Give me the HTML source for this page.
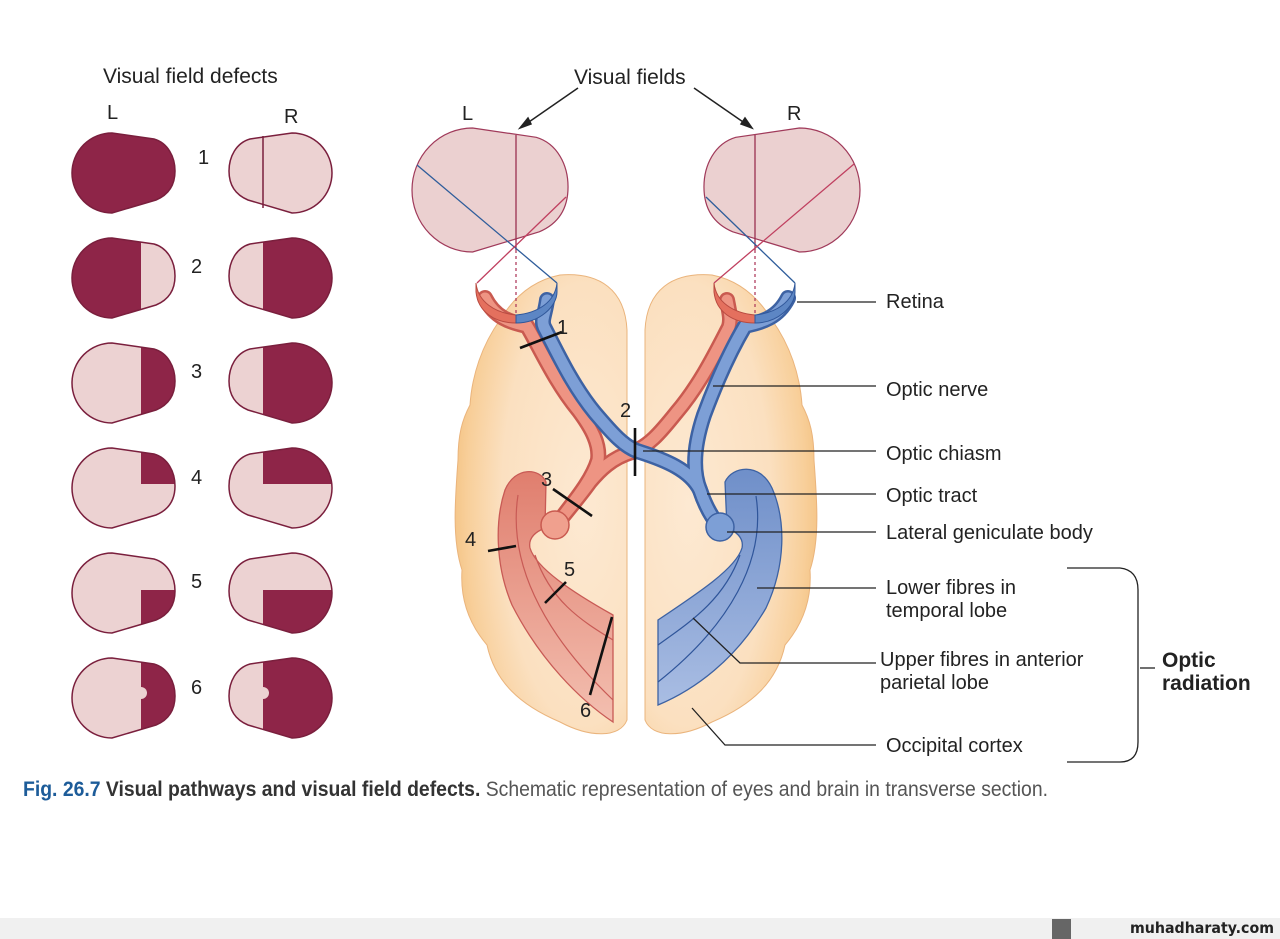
<!DOCTYPE html>
<html><head><meta charset="utf-8"><style>
html,body{margin:0;padding:0;background:#fff;width:1280px;height:939px;overflow:hidden}
svg{display:block}
text{font-family:"Liberation Sans",sans-serif;fill:#222}
</style></head><body>
<svg width="1280" height="939" viewBox="0 0 1280 939" xmlns="http://www.w3.org/2000/svg">
<defs>
<path id="fl" d="M40,0 L82,6 C96,10 103,24 103,38 C103,53 96,62 84,67 L40,80 A40,40 0 0 1 40,0 Z"/>
<radialGradient id="peach" cx="0.75" cy="0.5" r="0.8"><stop offset="0" stop-color="#fde9d2"/><stop offset="0.6" stop-color="#fbe0c0"/><stop offset="0.85" stop-color="#f8cf9a"/><stop offset="1" stop-color="#f3c07e"/></radialGradient>
<radialGradient id="peachR" cx="0.25" cy="0.5" r="0.8"><stop offset="0" stop-color="#fde9d2"/><stop offset="0.6" stop-color="#fbe0c0"/><stop offset="0.85" stop-color="#f8cf9a"/><stop offset="1" stop-color="#f3c07e"/></radialGradient>
<linearGradient id="redband" x1="0" y1="0" x2="0" y2="1"><stop offset="0" stop-color="#e07e6e"/><stop offset="1" stop-color="#f3bfb0"/></linearGradient>
<linearGradient id="blueband" x1="0" y1="0" x2="0" y2="1"><stop offset="0" stop-color="#6f8fc9"/><stop offset="1" stop-color="#a9bde3"/></linearGradient>
</defs>

<text x="103" y="83" font-size="21">Visual field defects</text>
<text x="107" y="119" font-size="20">L</text>
<text x="284" y="123" font-size="20">R</text>

<g stroke="#7a1f3d" stroke-width="1.5">
<use href="#fl" transform="translate(72,133)" fill="#8e2548"/>
<use href="#fl" transform="translate(332,133) scale(-1,1)" fill="#ecd2d2"/>
<line x1="263" y1="136" x2="263" y2="208"/>
</g>
<clipPath id="cL2"><use href="#fl" transform="translate(72,238)"/></clipPath>
<clipPath id="cR2"><use href="#fl" transform="translate(332,238) scale(-1,1)"/></clipPath>
<clipPath id="cL3"><use href="#fl" transform="translate(72,343)"/></clipPath>
<clipPath id="cR3"><use href="#fl" transform="translate(332,343) scale(-1,1)"/></clipPath>
<clipPath id="cL4"><use href="#fl" transform="translate(72,448)"/></clipPath>
<clipPath id="cR4"><use href="#fl" transform="translate(332,448) scale(-1,1)"/></clipPath>
<clipPath id="cL5"><use href="#fl" transform="translate(72,553)"/></clipPath>
<clipPath id="cR5"><use href="#fl" transform="translate(332,553) scale(-1,1)"/></clipPath>
<clipPath id="cL6"><use href="#fl" transform="translate(72,658)"/></clipPath>
<clipPath id="cR6"><use href="#fl" transform="translate(332,658) scale(-1,1)"/></clipPath>

<g fill="#ecd2d2">
<use href="#fl" transform="translate(72,238)"/><use href="#fl" transform="translate(332,238) scale(-1,1)"/>
<use href="#fl" transform="translate(72,343)"/><use href="#fl" transform="translate(332,343) scale(-1,1)"/>
<use href="#fl" transform="translate(72,448)"/><use href="#fl" transform="translate(332,448) scale(-1,1)"/>
<use href="#fl" transform="translate(72,553)"/><use href="#fl" transform="translate(332,553) scale(-1,1)"/>
<use href="#fl" transform="translate(72,658)"/><use href="#fl" transform="translate(332,658) scale(-1,1)"/>
</g>
<g fill="#8e2548">
<rect x="60" y="230" width="81" height="100" clip-path="url(#cL2)"/>
<rect x="263" y="230" width="80" height="100" clip-path="url(#cR2)"/>
<rect x="141" y="335" width="40" height="100" clip-path="url(#cL3)"/>
<rect x="263" y="335" width="80" height="100" clip-path="url(#cR3)"/>
<rect x="141" y="440" width="40" height="44" clip-path="url(#cL4)"/>
<rect x="263" y="440" width="80" height="44" clip-path="url(#cR4)"/>
<rect x="141" y="590" width="40" height="50" clip-path="url(#cL5)"/>
<rect x="263" y="590" width="80" height="50" clip-path="url(#cR5)"/>
<rect x="141" y="650" width="40" height="100" clip-path="url(#cL6)"/>
<rect x="263" y="650" width="80" height="100" clip-path="url(#cR6)"/>
</g>
<g fill="#ecd2d2"><circle cx="141" cy="693" r="6"/><circle cx="263" cy="693" r="6"/></g>
<g fill="none" stroke="#7a1f3d" stroke-width="1.5">
<use href="#fl" transform="translate(72,238)"/><use href="#fl" transform="translate(332,238) scale(-1,1)"/>
<use href="#fl" transform="translate(72,343)"/><use href="#fl" transform="translate(332,343) scale(-1,1)"/>
<use href="#fl" transform="translate(72,448)"/><use href="#fl" transform="translate(332,448) scale(-1,1)"/>
<use href="#fl" transform="translate(72,553)"/><use href="#fl" transform="translate(332,553) scale(-1,1)"/>
<use href="#fl" transform="translate(72,658)"/><use href="#fl" transform="translate(332,658) scale(-1,1)"/>
</g>
<g font-size="20"><text x="198" y="164">1</text><text x="191" y="273">2</text><text x="191" y="378">3</text><text x="191" y="484">4</text><text x="191" y="588">5</text><text x="191" y="694">6</text></g>

<text x="574" y="84" font-size="21">Visual fields</text>
<text x="462" y="120" font-size="20">L</text>
<text x="787" y="120" font-size="20">R</text>
<g stroke="#222" stroke-width="1.5" fill="#222">
<line x1="578" y1="88" x2="526" y2="124"/><path d="M520,128 L528,118 L531,124 Z"/>
<line x1="694" y1="88" x2="746" y2="124"/><path d="M752,128 L741,124 L745,118 Z"/>
</g>

<!-- brain -->
<path d="M560,275 C600,272 625,290 627,330 L627,720 C620,738 590,738 560,722 C520,705 495,682 487,645 C470,625 460,600 462,570 C452,540 455,500 458,460 C458,435 462,420 470,405 C472,375 482,345 500,320 C515,295 535,280 560,275 Z" fill="url(#peach)" stroke="#eab47c" stroke-width="1"/>
<path d="M712,275 C672,272 647,290 645,330 L645,720 C652,738 682,738 712,722 C752,705 777,682 785,645 C802,625 812,600 810,570 C820,540 817,500 814,460 C814,435 810,420 802,405 C800,375 790,345 772,320 C757,295 737,280 712,275 Z" fill="url(#peachR)" stroke="#eab47c" stroke-width="1"/>

<!-- big eye fields -->
<g transform="translate(412,128) scale(1.515,1.55)"><use href="#fl" fill="#ebd0d0" stroke="#a03a5a" stroke-width="0.8"/></g>
<g transform="translate(860,128) scale(-1.515,1.55)"><use href="#fl" fill="#ebd0d0" stroke="#a03a5a" stroke-width="0.8"/></g>
<g stroke-width="1.3" fill="none">
<line x1="516" y1="135" x2="516" y2="250" stroke="#9a3050"/>
<line x1="755" y1="135" x2="755" y2="250" stroke="#9a3050"/>
<line x1="516" y1="250" x2="516" y2="318" stroke="#b04060" stroke-dasharray="3,3"/>
<line x1="755" y1="250" x2="755" y2="318" stroke="#b04060" stroke-dasharray="3,3"/>
<line x1="417" y1="165" x2="557" y2="283" stroke="#2f5d9b"/>
<line x1="566" y1="197" x2="477" y2="283" stroke="#c04060"/>
<line x1="706" y1="197" x2="795" y2="283" stroke="#2f5d9b"/>
<line x1="854" y1="164" x2="714" y2="283" stroke="#c04060"/>
</g>

<!-- radiations -->
<path d="M546,482 C540,468 515,466 505,490 C495,520 495,565 512,605 C540,660 580,700 613,722 L613,615 C572,592 536,568 530,548 C528,538 535,532 545,528 Z" fill="url(#redband)" stroke="#c85a55" stroke-width="1.3"/>
<g fill="none" stroke="#c85a55" stroke-width="1.2"><path d="M518,495 C508,560 540,630 613,700"/><path d="M535,555 C550,600 580,620 613,640"/></g>
<path d="M725,482 C732,466 760,462 772,488 C786,520 786,565 766,608 C736,660 694,690 658,705 L658,620 C700,592 736,568 742,548 C744,538 737,532 727,528 Z" fill="url(#blueband)" stroke="#3d62a3" stroke-width="1.3"/>
<g fill="none" stroke="#2f559a" stroke-width="1.2"><path d="M756,496 C766,560 730,625 658,682"/><path d="M740,555 C724,600 690,622 658,645"/></g>

<!-- nerves -->
<g fill="none" stroke-linecap="round" stroke-linejoin="round">
<g stroke="#c95a50" stroke-width="16">
<path d="M485,298 C495,318 510,322 527,326 C540,348 555,382 578,410 C593,430 600,445 598,460 C592,480 575,500 560,520"/>
<path d="M727,300 C730,315 731,320 729,327 C716,352 700,385 676,413 C660,433 648,447 632,452 C612,458 600,470 590,482 C580,496 568,510 560,520"/>
</g>
<g stroke="#ee9483" stroke-width="11">
<path d="M485,298 C495,318 510,322 527,326 C540,348 555,382 578,410 C593,430 600,445 598,460 C592,480 575,500 560,520"/>
<path d="M727,300 C730,315 731,320 729,327 C716,352 700,385 676,413 C660,433 648,447 632,452 C612,458 600,470 590,482 C580,496 568,510 560,520"/>
</g>
<g stroke="#3d62a3" stroke-width="16">
<path d="M547,300 C545,315 541,320 544,327 C557,352 572,385 595,413 C612,433 625,448 640,452 C665,460 690,470 700,490 C705,505 712,518 720,527"/>
<path d="M788,298 C778,318 762,322 745,326 C732,348 717,380 704,415 C694,445 692,470 700,490 C705,505 712,518 720,527"/>
</g>
<g stroke="#7d9fd6" stroke-width="11">
<path d="M547,300 C545,315 541,320 544,327 C557,352 572,385 595,413 C612,433 625,448 640,452 C665,460 690,470 700,490 C705,505 712,518 720,527"/>
<path d="M788,298 C778,318 762,322 745,326 C732,348 717,380 704,415 C694,445 692,470 700,490 C705,505 712,518 720,527"/>
</g>
</g>
<!-- retinas -->
<path d="M476,283 C478,302 495,313 516,315 L516,323 C495,323 478,312 476,292 Z" fill="#e4705e" stroke="#b84a40"/>
<path d="M557,283 C555,302 538,313 516,315 L516,323 C540,323 557,306 557,292 Z" fill="#5d86c4" stroke="#30579a"/>
<path d="M714,283 C716,302 733,313 755,315 L755,323 C733,323 716,312 714,292 Z" fill="#e4705e" stroke="#b84a40"/>
<path d="M795,283 C793,302 776,313 755,315 L755,323 C778,323 795,306 795,292 Z" fill="#5d86c4" stroke="#30579a"/>
<circle cx="555" cy="525" r="14" fill="#f0a08e" stroke="#c95a50" stroke-width="1.5"/>
<circle cx="720" cy="527" r="14" fill="#7d9fd6" stroke="#3d62a3" stroke-width="1.5"/>

<g stroke="#111" stroke-width="2.6">
<line x1="520" y1="348" x2="562" y2="332"/>
<line x1="635" y1="428" x2="635" y2="476"/>
<line x1="553" y1="489" x2="592" y2="516"/>
<line x1="488" y1="551" x2="516" y2="546"/>
<line x1="545" y1="603" x2="566" y2="582"/>
<line x1="612" y1="617" x2="590" y2="695"/>
</g>
<g font-size="20"><text x="557" y="334">1</text><text x="620" y="417">2</text><text x="541" y="486">3</text><text x="465" y="546">4</text><text x="564" y="576">5</text><text x="580" y="717">6</text></g>

<g stroke="#222" stroke-width="1.3" fill="none">
<line x1="797" y1="302" x2="876" y2="302"/>
<line x1="713" y1="386" x2="876" y2="386"/>
<line x1="643" y1="451" x2="876" y2="451"/>
<line x1="707" y1="494" x2="876" y2="494"/>
<line x1="727" y1="532" x2="876" y2="532"/>
<line x1="757" y1="588" x2="876" y2="588"/>
<polyline points="693,618 740,663 876,663"/>
<polyline points="692,708 725,745 876,745"/>
<path d="M1067,568 L1120,568 Q1138,570 1138,590 L1138,742 Q1138,762 1120,762 L1067,762"/>
<line x1="1140" y1="668" x2="1155" y2="668"/>
</g>
<g font-size="20">
<text x="886" y="308">Retina</text>
<text x="886" y="396">Optic nerve</text>
<text x="886" y="460">Optic chiasm</text>
<text x="886" y="502">Optic tract</text>
<text x="886" y="539">Lateral geniculate body</text>
<text x="886" y="594">Lower fibres in</text>
<text x="886" y="617">temporal lobe</text>
<text x="880" y="666">Upper fibres in anterior</text>
<text x="880" y="689">parietal lobe</text>
<text x="886" y="752">Occipital cortex</text>
<text x="1162" y="667" font-weight="bold" font-size="21">Optic</text>
<text x="1162" y="690" font-weight="bold" font-size="21">radiation</text>
</g>

<text x="23" y="796" font-size="21" style="font-family:'Liberation Sans Narrow','Liberation Sans',sans-serif" textLength="1025" lengthAdjust="spacingAndGlyphs"><tspan font-weight="bold" fill="#1d5c99">Fig. 26.7</tspan><tspan font-weight="bold" fill="#333"> Visual pathways and visual field defects.</tspan><tspan fill="#555"> Schematic representation of eyes and brain in transverse section.</tspan></text>

<rect x="0" y="918" width="1280" height="21" fill="#f0f0f0"/>
<rect x="1052" y="919" width="19" height="20" fill="#666"/>
<text x="1130" y="933" font-size="15" font-weight="bold" fill="#111" textLength="144" lengthAdjust="spacingAndGlyphs" style="font-family:'DejaVu Sans',sans-serif">muhadharaty.com</text>
</svg>
</body></html>
